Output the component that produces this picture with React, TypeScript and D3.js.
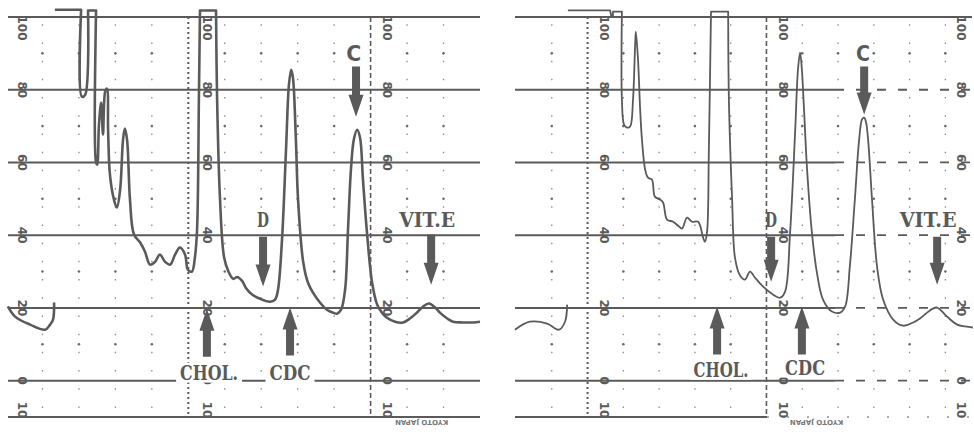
import { useEffect, useRef } from 'react';
import * as d3 from 'd3';

// chart paper (percent of full scale)
const lineValues = [100, 80, 60, 40, 20, 0, -10];
const lineLabels = ['100', '80', '60', '40', '20', '0', '10'];
const midValues = [90, 70, 50, 30, 10];
const columns = [1, 2, 3, 4, 5, 6, 7, 8, 9, 10, 11, 12];

// run 1 (left recording): [chart division, signal %]
const leftStart: [number, number][] = [
  [0.05, 20.4], [0.25, 17.6], [0.66, 15.4], [1.07, 14.0], [1.21, 15.4], [1.29, 16.8], [1.32, 21.5],
];
const leftTrace: [number, number][] = [
  [1.34, 102.0], [2.06, 102.0], [2.08, 78.1], [2.17, 78.6], [2.25, 101.8], [2.47, 101.8],
  [2.47, 60.0], [2.5, 59.4], [2.55, 70.4], [2.61, 76.5], [2.66, 67.7], [2.72, 79.5], [2.77, 80.3],
  [2.8, 69.0], [2.85, 56.7], [2.96, 49.8], [3.04, 47.6], [3.13, 52.5], [3.21, 66.3], [3.26, 69.3],
  [3.32, 66.3], [3.4, 49.8], [3.51, 40.2], [3.68, 38.0], [3.81, 35.5], [3.95, 31.9], [4.09, 32.7],
  [4.22, 34.7], [4.36, 32.7], [4.5, 31.9], [4.64, 34.7], [4.77, 36.6], [4.91, 34.7], [4.99, 30.5],
  [5.1, 30.0], [5.18, 33.8], [5.24, 41.5], [5.29, 77.3], [5.32, 101.8], [5.76, 101.8], [5.79, 77.3],
  [5.87, 49.8], [5.98, 34.0], [6.1, 30.0], [6.23, 28.0], [6.34, 28.5], [6.47, 27.5], [6.58, 25.5],
  [6.75, 23.7], [6.97, 22.5], [7.24, 21.7], [7.38, 22.3], [7.46, 25.0], [7.57, 38.8], [7.68, 63.5],
  [7.76, 81.4], [7.82, 85.5], [7.87, 83.3], [7.95, 66.3], [8.01, 49.8], [8.15, 32.7], [8.28, 27.0],
  [8.42, 24.2], [8.61, 21.5], [8.8, 19.5], [8.97, 18.7], [9.08, 18.4], [9.19, 19.5], [9.3, 25.0],
  [9.38, 41.5], [9.46, 58.0], [9.54, 66.3], [9.63, 69.0], [9.71, 66.8], [9.79, 55.3], [9.9, 40.7],
  [10.04, 27.0], [10.18, 20.9], [10.31, 18.7], [10.45, 17.3], [10.67, 16.2], [10.89, 16.0],
  [11.08, 17.1], [11.27, 18.7], [11.44, 20.4], [11.6, 21.2], [11.77, 20.1], [11.9, 18.7],
  [12.1, 17.1], [12.26, 16.2], [12.53, 16.0], [12.81, 16.0], [13.0, 16.2],
];

// run 2 (right recording)
const rightStart: [number, number][] = [
  [-0.03, 14.0], [0.39, 16.2], [0.87, 15.7], [1.2, 14.0], [1.37, 16.2], [1.43, 20.9],
];
const rightTrace: [number, number][] = [
  [1.45, 101.8], [2.63, 101.8], [2.66, 100.4], [2.71, 100.4], [2.71, 101.5], [2.96, 101.5],
  [2.96, 77.3], [3.02, 70.4], [3.1, 69.6], [3.19, 69.9], [3.27, 77.3], [3.33, 92.4], [3.35, 96.0],
  [3.41, 88.3], [3.47, 74.5], [3.52, 66.3], [3.61, 58.0], [3.69, 55.8], [3.8, 55.3], [3.88, 50.6],
  [4.02, 49.8], [4.11, 49.0], [4.22, 44.3], [4.39, 43.7], [4.53, 42.6], [4.64, 41.8], [4.78, 44.8],
  [4.92, 43.7], [5.09, 43.7], [5.23, 39.3], [5.28, 38.2], [5.34, 41.0], [5.39, 63.5], [5.45, 101.5],
  [5.93, 101.5], [5.95, 77.3], [6.04, 49.8], [6.12, 33.8], [6.26, 28.9], [6.4, 27.8], [6.54, 30.0],
  [6.68, 28.3], [6.9, 25.9], [7.18, 23.7], [7.38, 22.8], [7.52, 24.5], [7.66, 40.7], [7.8, 68.2],
  [7.88, 85.5], [7.94, 90.2], [7.99, 85.5], [8.05, 74.5], [8.13, 58.9], [8.27, 40.7], [8.41, 29.7],
  [8.58, 22.3], [8.83, 19.0], [9.06, 18.7], [9.2, 20.4], [9.33, 31.4], [9.47, 49.8], [9.59, 66.3],
  [9.67, 71.8], [9.73, 72.3], [9.78, 71.2], [9.84, 66.3], [9.95, 49.8], [10.09, 31.4], [10.26, 22.3],
  [10.54, 16.8], [10.82, 15.1], [11.1, 16.0], [11.29, 17.1], [11.49, 18.7], [11.65, 19.8],
  [11.77, 20.1], [11.88, 19.3], [12.05, 17.6], [12.33, 15.4], [12.55, 14.9], [12.77, 14.6],
];

// peak markers: name, division, arrow start value, arrow tip value
const leftDown = [
  { name: 'C', x: 9.6, from: 86.4, to: 72.6 },
  { name: 'D', x: 7.05, from: 39.6, to: 25.9 },
  { name: 'VIT.E', x: 11.66, from: 40.2, to: 26.4 },
];
const leftUp = [
  { name: 'CHOL.', x: 5.51, from: 6.6, to: 19.8 },
  { name: 'CDC', x: 7.79, from: 6.9, to: 20.1 },
];
const rightDown = [
  { name: 'C', x: 9.73, from: 86.4, to: 73.2 },
  { name: 'D', x: 7.13, from: 39.6, to: 27.2 },
  { name: 'VIT.E', x: 11.77, from: 39.6, to: 26.4 },
];
const rightUp = [
  { name: 'CHOL.', x: 5.62, from: 7.2, to: 20.4 },
  { name: 'CDC', x: 7.99, from: 7.2, to: 20.4 },
];

// text labels: text, division, value
const leftTexts = [
  { text: 'C', x: 9.54, y: 89.9, w: 15 },
  { text: 'D', x: 7.05, y: 44.3, w: 12 },
  { text: 'VIT.E', x: 11.55, y: 44.3, w: 56 },
  { text: 'CHOL.', x: 5.57, y: 2.2, w: 58 },
  { text: 'CDC', x: 7.79, y: 2.2, w: 41 },
];
const rightTexts = [
  { text: 'C', x: 9.7, y: 89.9, w: 14 },
  { text: 'D', x: 7.13, y: 44.3, w: 12 },
  { text: 'VIT.E', x: 11.52, y: 44.3, w: 57 },
  { text: 'CHOL.', x: 5.73, y: 3.0, w: 55 },
  { text: 'CDC', x: 8.08, y: 3.6, w: 40 },
];

const INK = '#5a5a5a';

function App() {
  const svgRef = useRef<SVGSVGElement | null>(null);
  const width = 974;
  const height = 444;

  useEffect(() => {
    const svg = d3.select(svgRef.current);
    svg.selectAll('*').remove();

    const y = d3.scaleLinear().domain([-10, 100]).range([417, 17]);

    const panels = [
      {
        x: d3.scaleLinear().domain([0, 13]).range([6, 480]),
        x0: 8, x1: 480, labelCols: [0.45, 5.5, 10.45], heavy: [5, 10],
        start: leftStart, trace: leftTrace, down: leftDown, up: leftUp, texts: leftTexts,
        stroke: 2.6, solidEnd: 480, bottomEnd: 480, stamp: 11.4,
      },
      {
        x: d3.scaleLinear().domain([0, 12.8]).range([516, 974]),
        x0: 515, x1: 972, labelCols: [2.45, 7.45, 12.45], heavy: [2, 7],
        start: rightStart, trace: rightTrace, down: rightDown, up: rightUp, texts: rightTexts,
        stroke: 1.8, solidEnd: 835, bottomEnd: 767, stamp: 8.4,
      },
    ];

    panels.forEach((p, pi) => {
      const g = svg.append('g');
      const x = p.x;

      // minor dotted columns
      columns.forEach((c) => {
        if (p.heavy.includes(c)) return;
        g.append('line')
          .attr('x1', x(c)).attr('x2', x(c))
          .attr('y1', y(98)).attr('y2', y(-8))
          .attr('stroke', '#8a8a8a').attr('stroke-width', 1.3)
          .attr('stroke-dasharray', '1.5,16.7');
        midValues.forEach((m) => {
          g.append('circle').attr('cx', x(c)).attr('cy', y(m)).attr('r', 1.3).attr('fill', '#6a6a6a');
        });
      });

      // heavy vertical divisions
      p.heavy.forEach((c, i) => {
        g.append('line')
          .attr('x1', x(c)).attr('x2', x(c))
          .attr('y1', y(100)).attr('y2', y(-10))
          .attr('stroke', INK).attr('stroke-width', i === 0 ? 2 : 1.6)
          .attr('stroke-dasharray', i === 0 ? '2,3' : '5,3');
      });

      // horizontal paper lines
      lineValues.forEach((v, i) => {
        const solid = i === 0 || pi === 0;
        const end = v === -10 ? p.bottomEnd : p.solidEnd;
        g.append('line')
          .attr('x1', p.x0).attr('x2', solid ? p.x1 : end)
          .attr('y1', y(v)).attr('y2', y(v))
          .attr('stroke', INK).attr('stroke-width', 2);
        if (!solid) {
          g.append('line')
            .attr('x1', end).attr('x2', p.x1)
            .attr('y1', y(v)).attr('y2', y(v))
            .attr('stroke', INK).attr('stroke-width', v === -10 ? 1.2 : 1.8)
            .attr('stroke-dasharray', v === -10 ? '2,18' : '9,12');
        }
      });

      // rotated scale labels
      p.labelCols.forEach((c) => {
        lineValues.forEach((v, i) => {
          let ly = y(v);
          if (v === 100) ly += 11;
          if (v === -10) ly -= 7;
          g.append('text')
            .attr('transform', `translate(${x(c)},${ly}) rotate(90)`)
            .attr('text-anchor', 'middle').attr('dominant-baseline', 'central')
            .attr('font-family', 'DejaVu Sans').attr('font-weight', 'bold')
            .attr('font-size', 12).attr('fill', INK)
            .text(lineLabels[i]);
        });
      });

      // recorder traces; off-scale points (pen at the stop) keep sharp corners
      const line = d3.line<[number, number]>()
        .x((d) => x(d[0]))
        .y((d) => y(d[1]))
        .curve(d3.curveCatmullRom.alpha(0.5));
      [p.start, p.trace].forEach((t) => {
        const pts = t.flatMap((d) => (d[1] > 99 ? [d, d] : [d]));
        g.append('path').attr('d', line(pts)).attr('fill', 'none')
          .attr('stroke', INK).attr('stroke-width', p.stroke).attr('stroke-linejoin', 'round');
      });

      // arrows
      const arrow = (cx: number, from: number, to: number) => {
        const dir = to > from ? -1 : 1;
        const yf = y(from);
        const yt = y(to);
        const head = 22;
        const yb = yt - dir * head;
        return `M${cx - 4},${yf} L${cx + 4},${yf} L${cx + 4},${yb} L${cx + 7.5},${yb} L${cx},${yt} L${cx - 7.5},${yb} L${cx - 4},${yb} Z`;
      };
      [...p.down, ...p.up].forEach((a) => {
        g.append('path').attr('d', arrow(x(a.x), a.from, a.to)).attr('fill', INK);
      });

      // peak names
      p.texts.forEach((t) => {
        if (t.y < 10) {
          g.append('rect')
            .attr('x', x(t.x) - t.w / 2 - 4).attr('y', y(t.y) - 10)
            .attr('width', t.w + 8).attr('height', 20).attr('fill', '#fff');
        }
        g.append('text')
          .attr('x', x(t.x)).attr('y', y(t.y))
          .attr('text-anchor', 'middle').attr('dominant-baseline', 'central')
          .attr('font-family', t.text === 'C' ? 'DejaVu Sans' : 'DejaVu Serif')
          .attr('font-weight', 'bold').attr('font-size', 21).attr('fill', INK)
          .attr('textLength', t.w).attr('lengthAdjust', 'spacingAndGlyphs')
          .text(t.text);
      });

      // maker's stamp, printed upside down
      g.append('text')
        .attr('transform', `translate(${x(p.stamp)},${y(-10) + 5}) rotate(180)`)
        .attr('text-anchor', 'middle').attr('dominant-baseline', 'central')
        .attr('font-family', 'DejaVu Sans').attr('font-weight', 'bold')
        .attr('font-size', 7).attr('fill', '#777')
        .text('KYOTO JAPAN');
    });
  }, []);

  return (
    <svg
      ref={svgRef}
      width={width}
      height={height}
      style={{ position: 'absolute', left: 0, top: 0, background: '#fff' }}
    />
  );
}

export default App;
